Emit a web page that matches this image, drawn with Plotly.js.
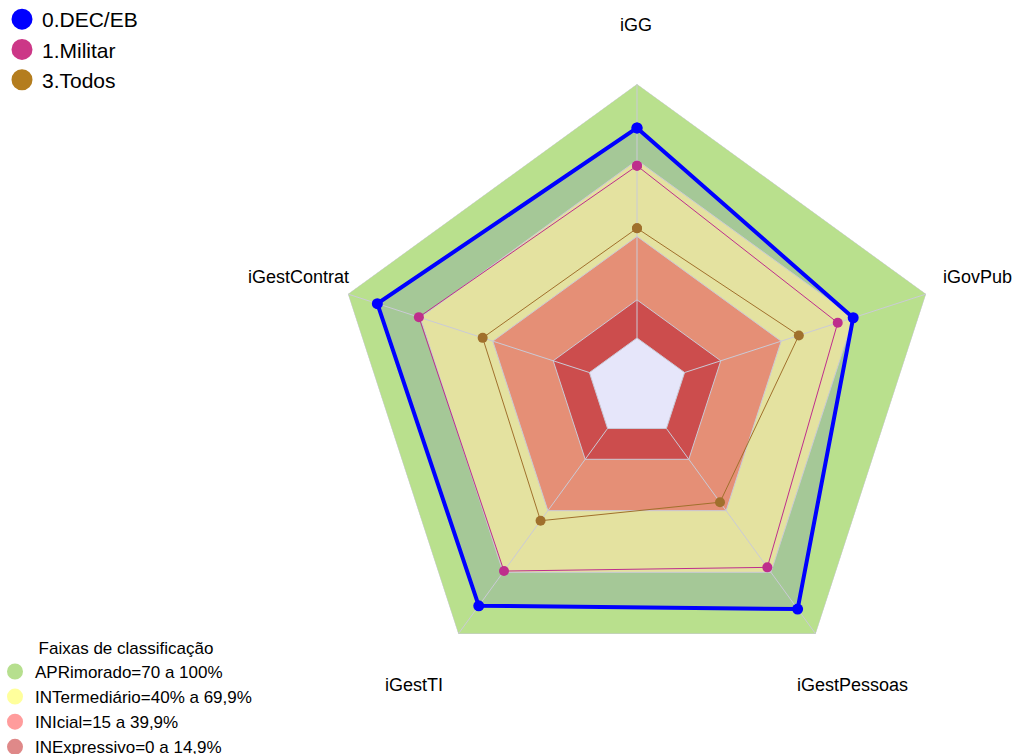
<!DOCTYPE html>
<html><head><meta charset="utf-8">
<script src="https://cdn.plot.ly/plotly-3.0.1.min.js"></script>
<style>html,body{margin:0;padding:0;background:#fff}</style>
</head><body>
<div id="chart" style="width:1021px;height:754px"></div>
<script>
// ---- data ----
const categories = ['iGG', 'iGovPub', 'iGestPessoas', 'iGestTI', 'iGestContrat'];
const seriesNames = ['0.DEC/EB', '1.Militar', '3.Todos'];
const decEB   = [82.7, 69.8, 87.9, 86.3, 87.8];
const militar = [67.8, 63.4, 67.6, 69.4, 70.6];
const todos   = [43.2, 47.3, 35.9, 44.9, 44.2];
const bandNames = ['APRimorado=70 a 100%', 'INTermediário=40% a 69,9%', 'INIcial=15 a 39,9%', 'INExpressivo=0 a 14,9%'];
const bandUpper = [100, 70, 40, 15];
const bandLower = [70, 40, 15, 0];
const legendTitle = 'Faixas de classificação';

// ---- styles ----
const seriesColors = ['#0000FF', '#BE2E8C', '#A0702C'];
const legendSeriesColors = ['#0000FF', '#CC3787', '#B47D1E'];
const seriesLineWidth = [4, 1, 1];
const seriesMarkerSize = [11, 10, 10];
const bandFill = ['#B9E08D', '#E4E2A0', '#E58F76', '#CC4D4D'];
const bandLegendColors = ['rgb(112,192,32)', 'rgb(255,255,60)', 'rgb(255,60,60)', 'rgb(192,20,20)'];
const coreFill = '#E6E6FA';
const tintFill = '#A5C897';
const gridColor = '#CACAD6';
const RMIN = -19.7;
const W = 1021, H = 754;
const center = [637, 388], radiusPx = 304;
const labelPos = [[636, 25], [977, 277], [852, 685], [414, 685], [298, 277]];

const closeArr = a => a.concat([a[0]]);
const theta = closeArr(categories);
const constR = v => theta.map(() => v);

const traces = [];
// outer band (APRimorado)
traces.push({type: 'scatterpolar', r: constR(bandUpper[0]), theta: theta, mode: 'lines', fill: 'toself',
  fillcolor: bandFill[0], line: {color: gridColor, width: 1}, showlegend: false, hoverinfo: 'skip'});
// tint of the first series over the outer band
traces.push({type: 'scatterpolar', r: closeArr(decEB), theta: theta, mode: 'lines', fill: 'toself',
  fillcolor: tintFill, line: {width: 0}, showlegend: false, hoverinfo: 'skip'});
// inner bands
for (let i = 1; i < bandUpper.length; i++) {
  traces.push({type: 'scatterpolar', r: constR(bandUpper[i]), theta: theta, mode: 'lines', fill: 'toself',
    fillcolor: bandFill[i], line: {color: gridColor, width: 1}, showlegend: false, hoverinfo: 'skip'});
}
// core
traces.push({type: 'scatterpolar', r: constR(bandLower[bandLower.length - 1]), theta: theta, mode: 'lines', fill: 'toself',
  fillcolor: coreFill, line: {color: gridColor, width: 1}, showlegend: false, hoverinfo: 'skip'});
// spokes
const spokeR = [], spokeT = [];
categories.forEach(c => { spokeR.push(bandLower[bandLower.length - 1], bandUpper[0], null); spokeT.push(c, c, null); });
traces.push({type: 'scatterpolar', r: spokeR, theta: spokeT, mode: 'lines', line: {color: gridColor, width: 1},
  showlegend: false, hoverinfo: 'skip', connectgaps: false});
// data series
const seriesData = [decEB, militar, todos];
[2, 1, 0].forEach(i => {
  traces.push({type: 'scatterpolar', name: seriesNames[i], r: closeArr(seriesData[i]), theta: theta,
    mode: 'lines+markers', line: {color: seriesColors[i], width: seriesLineWidth[i]},
    marker: {color: seriesColors[i], size: seriesMarkerSize[i]}, showlegend: false});
});
// legend entries
seriesNames.forEach((n, i) => {
  traces.push({type: 'scatterpolar', name: n, r: [null], theta: [categories[0]], mode: 'markers',
    marker: {color: legendSeriesColors[i], size: 16, line: {color: legendSeriesColors[i], width: 5}},
    legend: 'legend', hoverinfo: 'skip'});
});
bandNames.forEach((n, i) => {
  traces.push({type: 'scatterpolar', name: n, r: [null], theta: [categories[0]], mode: 'markers',
    marker: {color: bandLegendColors[i], size: 14, opacity: 0.5, line: {color: bandLegendColors[i], width: 2}},
    legend: 'legend2', hoverinfo: 'skip'});
});

const annotations = categories.map((c, i) => ({
  text: c, xref: 'paper', yref: 'paper', x: labelPos[i][0] / W, y: 1 - labelPos[i][1] / H,
  xanchor: 'center', yanchor: 'middle', showarrow: false, font: {size: 18, color: '#000'}
}));

const layout = {
  width: W, height: H,
  margin: {l: 0, r: 0, t: 0, b: 0, autoexpand: false},
  paper_bgcolor: '#fff',
  font: {family: 'Liberation Sans, Arial, sans-serif', color: '#000'},
  hovermode: false,
  polar: {
    domain: {x: [(center[0] - radiusPx) / W, (center[0] + radiusPx) / W],
             y: [1 - (center[1] + radiusPx) / H, 1 - (center[1] - radiusPx) / H]},
    bgcolor: 'rgba(0,0,0,0)',
    gridshape: 'linear',
    radialaxis: {visible: false, range: [RMIN, bandUpper[0]]},
    angularaxis: {type: 'category', categoryarray: categories, rotation: 90, direction: 'clockwise',
      showgrid: false, showline: false, showticklabels: false, ticks: ''}
  },
  showlegend: true,
  legend: {x: 2 / W, y: 1 + 1 / H, xanchor: 'left', yanchor: 'top', font: {size: 21}, bgcolor: 'rgba(0,0,0,0)'},
  legend2: {x: -5 / W, y: 0.162, xanchor: 'left', yanchor: 'top', font: {size: 17}, bgcolor: 'rgba(0,0,0,0)',
    title: {text: legendTitle, side: 'top center', font: {size: 17}}},
  annotations: annotations
};

Plotly.newPlot('chart', traces, layout, {displayModeBar: false, staticPlot: true});
</script>
</body></html>
